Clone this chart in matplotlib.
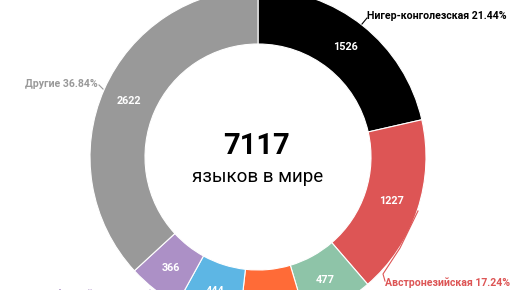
import numpy as np
import matplotlib
matplotlib.use("Agg")
import matplotlib.pyplot as plt

plt.rcParams['font.family'] = ['Roboto', 'DejaVu Sans']

# language families, clockwise from the top
families = ["Нигер-конголезская", "Австронезийская", "Трансновогвинейская",
            "Сино-тибетская", "Индоевропейская", "Афразийская", "Другие"]
counts = [1526, 1227, 477, 455, 444, 366, 2622]
colors = ["#000000", "#dd5555", "#8ec4a8", "#ff6b37", "#5db6e4", "#ac90c6", "#999999"]
total_label = "7117"
subtitle = "языков в мире"

W, H = 516, 290
cx, cy = 258, 157          # centre in picture pixels (y down)
R, width = 168, 55


def py(y):
    # picture y (down) -> axes y (up)
    return H - y


fig = plt.figure(figsize=(W / 100, H / 100), dpi=100)
ax = fig.add_axes([0, 0, 1, 1])

ax.pie(counts, colors=colors, startangle=90, counterclock=False,
       radius=R, center=(cx, py(cy)),
       wedgeprops=dict(width=width, edgecolor="white", linewidth=0.8))
ax.set_xlim(0, W)
ax.set_ylim(0, H)
ax.set_aspect("equal")
ax.axis("off")

total = sum(counts)
cum = np.cumsum([0] + counts[:-1])
r_mid = R - width / 2
for c, v in zip(cum, counts):
    ang = np.deg2rad(90 - 360 * (c + v / 2) / total)
    ax.text(cx + r_mid * np.cos(ang), py(cy) + r_mid * np.sin(ang), str(v),
            color="white", fontsize=7.8, fontweight="bold",
            ha="center", va="center")

# centre text
ax.text(cx - 2, py(146), total_label, fontsize=21, ha="center", va="center",
        fontweight="bold")
ax.text(cx, py(177), subtitle, fontsize=13.5, ha="center", va="center")

# outer labels (only the ones that fall inside the picture)
pct = [v / total * 100 for v in counts]


def outer(i, x, y, ha, line):
    ax.text(x, py(y), f"{families[i]} {pct[i]:.2f}%", color=colors[i],
            fontsize=7.6, fontweight="bold", ha=ha, va="center")
    xs, ys = zip(*line)
    ax.plot(xs, [py(v) for v in ys], color=colors[i], lw=0.8)


outer(0, 367, 16, "left", [(362, 24), (367, 18)])
outer(1, 385, 283, "left", [(418, 211), (400, 248), (383, 274), (385, 281)])
outer(6, 98, 84, "right", [(103, 89), (99, 85)])
outer(5, 147, 294, "right", [(150, 290), (148, 292)])

fig.savefig("out.png", dpi=100)
